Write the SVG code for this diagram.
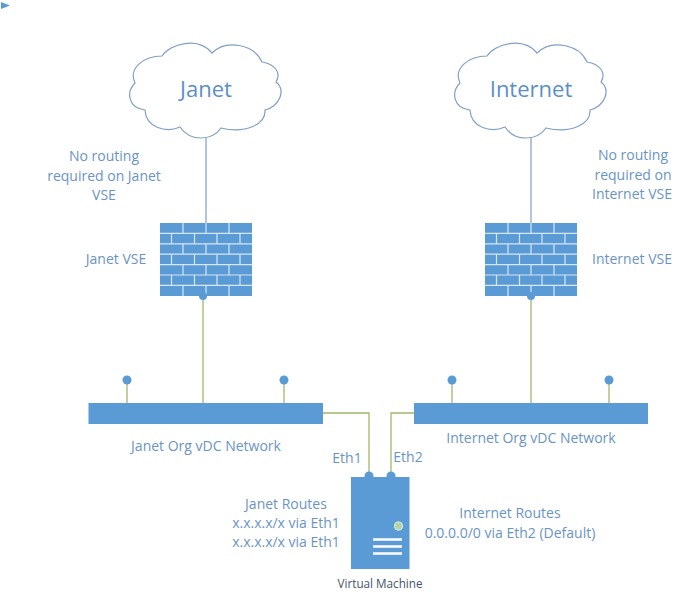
<svg xmlns="http://www.w3.org/2000/svg" width="682" height="599" viewBox="0 0 682 599">
<style>
text{font-family:"Open Sans","Noto Sans","Liberation Sans",sans-serif;font-size:14px;fill:#6a94c4;text-anchor:middle}
.big{font-size:22px;fill:#5b8fc9}
.dark{font-size:11.700px;fill:#44546a}
.cloud{fill:#fff;stroke:#7f9fc6;stroke-width:1.2}
.blue{fill:#5b9bd5}
.brick{stroke:#d6e6f5;stroke-width:1.2;fill:none}
.blueline{stroke:#7f9fc6;stroke-width:1.2;fill:none}
.green{stroke:#9dbb6a;stroke-width:1.3;fill:none}
</style>
<defs>
<path id="cloudShape" d="M162 56C170 44 198 36 212 53C226 39 254 44 262 62C274 64 282 72 276 82C286 90 280 106 265 110C266 124 246 134 221 128C212 141 190 142 180 127C166 133 146 128 145 110C128 108 126 92 135 83C128 68 144 56 162 56Z"/>
<g id="wall">
<rect class="blue" x="160" y="223" width="92" height="73"/>
<path class="brick" d="M160 233.400H252M160 243.800H252M160 254.200H252M160 264.600H252M160 275H252M160 285.400H252M183 223V233.400M206 223V233.400M229 223V233.400M171.500 233.400V243.800M194.500 233.400V243.800M217 233.400V243.800M240 233.400V243.800M183 243.800V254.200M206 243.800V254.200M229 243.800V254.200M171.500 254.200V264.600M194.500 254.200V264.600M217 254.200V264.600M240 254.200V264.600M183 264.600V275M206 264.600V275M229 264.600V275M171.500 275V285.400M194.500 275V285.400M217 275V285.400M240 275V285.400M183 285.400V296M206 285.400V296M229 285.400V296"/>
</g>
</defs>
<polygon class="blue" points="1,2 10,5.500 1,9" id="corner-mark"/>
<g id="connectors">
<path class="blueline" d="M206 127V223M531 127V223"/>
<path class="green" d="M203 296V403M531 296V403M127 384V403M284 384V403M452 384V403M609 384V403M323 413H369V473M414 413H391V473"/>
</g>
<g id="cloud-janet"><use href="#cloudShape" class="cloud"/><text class="big" x="206" y="97">Janet</text></g>
<g id="cloud-internet"><use href="#cloudShape" class="cloud" x="325"/><text class="big" x="531" y="97">Internet</text></g>
<g id="janet-vse"><use href="#wall"/><circle class="blue" cx="203" cy="296" r="4"/></g>
<g id="internet-vse"><use href="#wall" x="325"/><circle class="blue" cx="531" cy="296" r="4"/></g>
<g id="janet-network"><rect class="blue" x="88.500" y="403" width="234.500" height="21"/><circle class="blue" cx="127" cy="380" r="4.500"/><circle class="blue" cx="284" cy="380" r="4.500"/></g>
<g id="internet-network"><rect class="blue" x="414" y="403" width="234" height="21"/><circle class="blue" cx="452" cy="380" r="4.500"/><circle class="blue" cx="609" cy="380" r="4.500"/></g>
<g id="virtual-machine">
<rect class="blue" x="351" y="477" width="58.500" height="92"/>
<circle class="blue" cx="369" cy="476" r="4.500"/><circle class="blue" cx="391" cy="476" r="4.500"/>
<circle cx="398.500" cy="526" r="4.500" fill="#b5d5a0"/><circle cx="398.500" cy="526" r="4" fill="none" stroke="#cfe3f3" stroke-width="1.200"/>
<path d="M373 539.500H402M373 546.500H402M373 553.500H402" stroke="#fff" stroke-width="2.500" fill="none"/>
</g>
<g id="labels">
<text x="104" y="161">No routing</text>
<text x="104" y="181">required on Janet</text>
<text x="104" y="200">VSE</text>
<text x="116" y="264">Janet VSE</text>
<text x="633" y="160">No routing</text>
<text x="633" y="180">required on</text>
<text x="632" y="199">Internet VSE</text>
<text x="632" y="264">Internet VSE</text>
<text x="206" y="451">Janet Org vDC Network</text>
<text x="531" y="443">Internet Org vDC Network</text>
<text x="347" y="463">Eth1</text>
<text x="408" y="462">Eth2</text>
<text x="286" y="509">Janet Routes</text>
<text x="286" y="528">x.x.x.x/x via Eth1</text>
<text x="286" y="547">x.x.x.x/x via Eth1</text>
<text x="510" y="518">Internet Routes</text>
<text x="510" y="538">0.0.0.0/0 via Eth2 (Default)</text>
<text class="dark" x="380" y="588">Virtual Machine</text>
</g>
</svg>
